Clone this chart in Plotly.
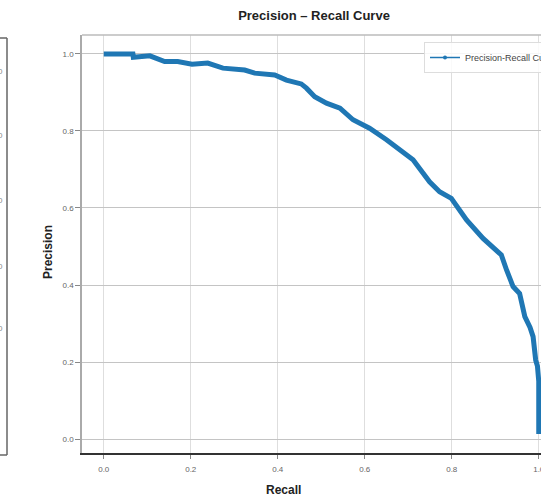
import plotly.graph_objects as go

# ---- data ----
recall = [0.0, 0.067, 0.068, 0.106, 0.14, 0.17, 0.203, 0.239, 0.274, 0.324, 0.347,
          0.393, 0.42, 0.454, 0.466, 0.481, 0.485, 0.512, 0.543, 0.573, 0.611, 0.65,
          0.665, 0.68, 0.711, 0.749, 0.772, 0.799, 0.834, 0.872, 0.914, 0.926, 0.941,
          0.956, 0.968, 0.98, 0.987, 0.993, 0.997, 1.0, 1.0]
precision = [1.0, 1.0, 0.991, 0.995, 0.98, 0.98, 0.973, 0.976, 0.963, 0.958, 0.95,
             0.945, 0.932, 0.922, 0.911, 0.894, 0.889, 0.872, 0.859, 0.829, 0.807, 0.777,
             0.764, 0.755, 0.725, 0.668, 0.642, 0.625, 0.569, 0.521, 0.478, 0.439, 0.396,
             0.378, 0.318, 0.29, 0.266, 0.205, 0.19, 0.15, 0.013]
x_ticks = [0.0, 0.2, 0.4, 0.6, 0.8, 1.0]
y_ticks = [0.0, 0.2, 0.4, 0.6, 0.8, 1.0]
tick_labels = ["0.0", "0.2", "0.4", "0.6", "0.8", "1.0"]
left_panel_ticks_px = [72, 135, 200, 266, 328]

W, H = 541, 498
L, T, B = 82, 35, 453
PW, PH = W - L, B - T

def px(x):
    return (x - L) / PW

def py(y):
    return (B - y) / PH

FONT = "Liberation Sans Narrow, Arial Narrow, Liberation Sans, Arial, sans-serif"
BLUE = "#1f77b4"

fig = go.Figure()
fig.add_trace(go.Scatter(x=recall, y=precision, mode="lines",
                         line=dict(color=BLUE, width=5),
                         showlegend=False, hoverinfo="skip"))
fig.add_trace(go.Scatter(x=[None], y=[None], mode="lines+markers",
                         name="Precision-Recall Curve",
                         line=dict(color=BLUE, width=1.5),
                         marker=dict(color=BLUE, size=4)))

fig.update_layout(
    width=W, height=H,
    margin=dict(l=L, r=0, t=T, b=H - B, autoexpand=False),
    plot_bgcolor="white", paper_bgcolor="white",
    font=dict(family=FONT, size=8, color="#555"),
    title=dict(text="<b>Precision – Recall Curve</b>", x=px(314), xref="paper",
               xanchor="center", y=1 - 15 / H, yanchor="middle",
               font=dict(family=FONT, size=13, color="#222")),
    xaxis=dict(range=[-0.05, -0.05 + PW / 435], tickvals=x_ticks, ticktext=tick_labels,
               showgrid=True, gridcolor="#dedede", gridwidth=1, zeroline=False,
               showline=True, linecolor="#333", linewidth=1.5,
               ticks="outside", ticklen=4, tickcolor="#888",
               ticklabeloverflow="allow", ticklabelstandoff=4,
               tickfont=dict(size=8, color="#666")),
    yaxis=dict(range=[-0.036, 1.049], tickvals=y_ticks, ticktext=tick_labels,
               showgrid=True, gridcolor="#c4c4c4", gridwidth=1, zeroline=False,
               showline=True, linecolor="#aaa", linewidth=1.5,
               ticks="outside", ticklen=5, tickcolor="#888",
               tickfont=dict(size=8, color="#666")),
    legend=dict(x=px(424), y=py(42), xanchor="left", yanchor="top",
                bgcolor="rgba(255,255,255,0.85)", bordercolor="#ddd", borderwidth=1,
                font=dict(family=FONT, size=9, color="#444"),
                itemwidth=30, tracegroupgap=0),
)

# top spine
fig.add_shape(type="line", xref="paper", yref="paper", x0=0, x1=1, y0=1, y1=1,
              line=dict(color="#bbb", width=1.5))

# axis titles
fig.add_annotation(text="<b>Precision</b>", xref="paper", yref="paper",
                   x=px(48), y=py(252), textangle=-90, showarrow=False,
                   xanchor="center", yanchor="middle",
                   font=dict(family="Liberation Sans, Arial, sans-serif", size=12, color="#222"))
fig.add_annotation(text="<b>Recall</b>", xref="paper", yref="paper",
                   x=px(283), y=py(490), showarrow=False,
                   xanchor="center", yanchor="middle",
                   font=dict(family=FONT, size=12, color="#222"))

# fragment of a neighbouring panel at the left edge
for (x0, y0, x1, y1) in [(0, 38, 7, 38), (7, 38, 7, 455), (0, 455, 7, 455)]:
    fig.add_shape(type="line", xref="paper", yref="paper",
                  x0=px(x0), y0=py(y0), x1=px(x1), y1=py(y1),
                  line=dict(color="#666", width=1.5))
for yy in left_panel_ticks_px:
    fig.add_annotation(text="0", xref="paper", yref="paper", x=px(5), y=py(yy),
                       xanchor="right", yanchor="middle", showarrow=False,
                       font=dict(family=FONT, size=8, color="#888"))

fig.write_html("out.html")
